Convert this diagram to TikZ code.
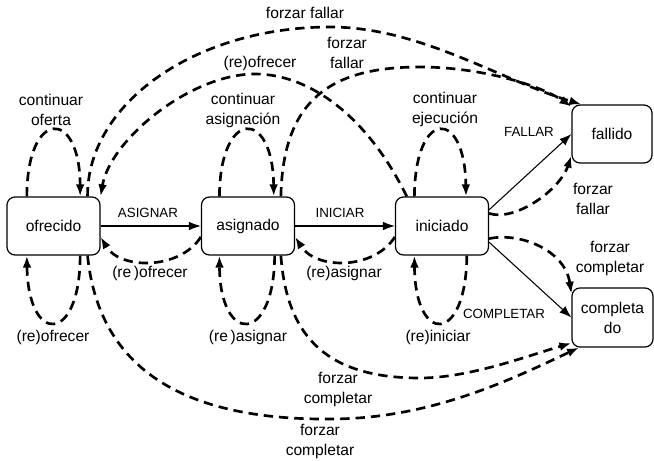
\documentclass[tikz,border=0pt]{standalone}
\usepackage{fontspec}
\setmainfont{Liberation Sans}
\usetikzlibrary{arrows.meta}

\begin{document}
\begin{tikzpicture}[x=0.75pt,y=-0.75pt,
        >={Latex[length=9pt,width=6.5pt]},
        state/.style={draw, line width=0.9pt, rounded corners=6pt, minimum width=69.75pt,
            minimum height=43.5pt, align=center, font=\fontsize{11.7}{15}\selectfont},
        flow/.style={->, line width=2pt, dash pattern=on 7pt off 4.5pt},
        move/.style={->, line width=0.8pt},
        lbl/.style={align=center, inner sep=0pt, font=\fontsize{11.7}{15}\selectfont},
        capslbl/.style={inner sep=0pt, font=\fontsize{10}{12}\selectfont}]
        \useasboundingbox (0,0) rectangle (654,461);

        % States
        \node[state] (ofrecido) at (53.5,226) {ofrecido};
        \node[state] (asignado) at (248,226) {asignado};
        \node[state] (iniciado) at (442,226) {iniciado};
        \node[state, minimum width=60pt] (fallido) at (612,134) {fallido};
        \node[state, minimum width=60.75pt, minimum height=44.25pt] (completado) at (612.5,317.5) {completa\\do};

        % Normal transitions
        \draw[move] (ofrecido) -- (asignado);
        \draw[move] (asignado) -- (iniciado);
        \draw[move] (iniciado.19) -- (fallido.west);
        \draw[move] (iniciado.-19) -- (completado.west);
        \node[capslbl] (tasignar) at (148,213) {ASIGNAR};
        \node[capslbl] (tiniciar) at (340,213) {INICIAR};
        \node[capslbl] (tfallar) at (529,132) {FALLAR};
        \node[capslbl] (tcompletar) at (504,314) {COMPLETAR};

        % Loops above
        \draw[flow] (ofrecido.132) .. controls (27,108) and (80,108) .. (ofrecido.48);
        \draw[flow] (asignado.134) .. controls (220,108) and (273,108) .. (asignado.49);
        \draw[flow] (iniciado.133) .. controls (415,108) and (465,108) .. (iniciado.51);
        \node[lbl] (lcofe) at (51,110) {continuar\\oferta};
        \node[lbl] (lcasi) at (243,110) {continuar\\asignación};
        \node[lbl] (lceje) at (445,109) {continuar\\ejecución};

        % Loops below
        \draw[flow] (ofrecido.-48) .. controls (80,345) and (28,345) .. (ofrecido.228);
        \draw[flow] (asignado.-48) .. controls (274,345) and (220,345) .. (asignado.226);
        \draw[flow] (iniciado.-50) .. controls (466,345) and (415,345) .. (iniciado.227);
        \node[lbl] (lrofe) at (53,337) {(re)ofrecer};
        \node[lbl] (lrasi) at (248,337) {(re\,)asignar};
        \node[lbl] (lrini) at (438,337) {(re)iniciar};

        % Back to previous state
        \draw[flow] (asignado.193) .. controls (180,270) and (120,270) .. (ofrecido.347);
        \draw[flow] (iniciado.193) .. controls (374,270) and (316,270) .. (asignado.347);
        \node[lbl] (lbofe) at (150,273) {(re\,)ofrecer};
        \node[lbl] (lbasi) at (344,273) {(re)asignar};

        % Forced to fallido
        \draw[flow] (ofrecido.41) .. controls (87,103) and (196,27) .. (330,27)
            .. controls (420,27) and (500,80) .. (fallido.136);
        \draw[flow] (asignado.42) .. controls (283,100) and (330,67) .. (420,67)
            .. controls (480,67) and (540,85) .. (fallido.146);
        \draw[flow] (iniciado.15) .. controls (515,222) and (560,190) .. (fallido.208);
        \node[lbl] (lffa1) at (305,13) {forzar fallar};
        \node[lbl] (lffa2) at (347,53) {forzar\\fallar};
        \node[lbl] (lffa3) at (593,199) {forzar\\fallar};

        % Re-offer from iniciado
        \draw[flow] (iniciado.140) .. controls (368,117) and (310,74) .. (255,74)
            .. controls (190,74) and (110,140) .. (ofrecido.north east);
        \node[lbl] (lrofe2) at (260,63) {(re)ofrecer};

        % Forced to completado
        \draw[flow] (asignado.-42) .. controls (287,340) and (330,378) .. (420,378)
            .. controls (470,378) and (530,355) .. (completado.212);
        \draw[flow] (ofrecido.-41) .. controls (100,380) and (200,420) .. (330,419)
            .. controls (430,419) and (510,380) .. (completado.222);
        \draw[flow] (iniciado.-15) .. controls (520,232) and (565,250) .. (completado.150);
        \node[lbl] (lfco1) at (338,389) {forzar\\completar};
        \node[lbl] (lfco2) at (320,441) {forzar\\completar};
        \node[lbl] (lfco3) at (610,258) {forzar\\completar};

\end{tikzpicture}
\end{document}
